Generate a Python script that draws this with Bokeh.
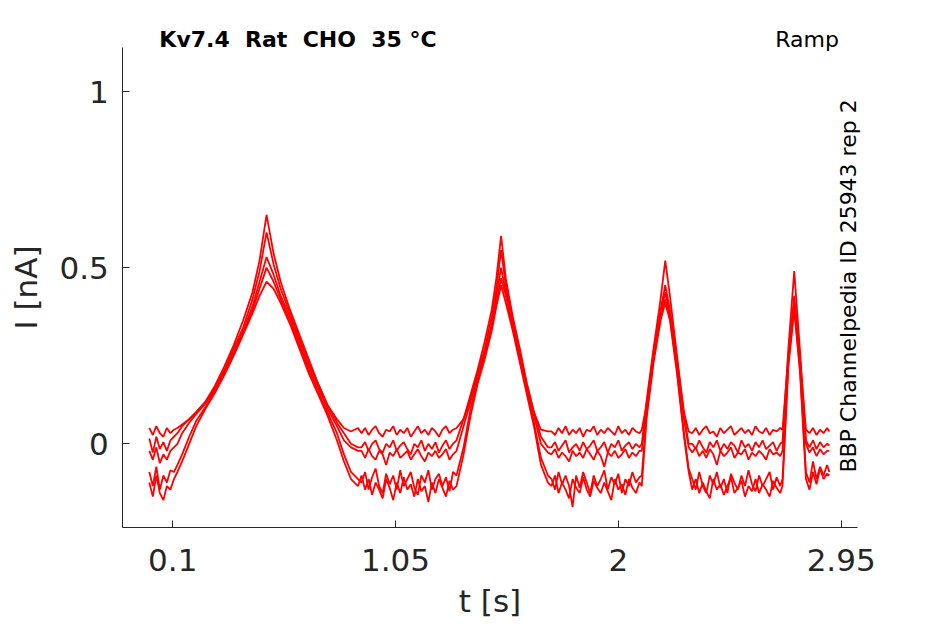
from bokeh.plotting import figure
from bokeh.models import Range1d, FixedTicker, Label
from bokeh.embed import file_html
from bokeh.resources import INLINE

# ---------------- data ----------------
# time [s]; one row per protocol segment
t = ([0.000, 0.015, 0.030, 0.045, 0.060, 0.075, 0.090, 0.105] +                       # hold
     [0.12, 0.14, 0.17, 0.20, 0.24, 0.28, 0.32, 0.36, 0.40, 0.44, 0.47, 0.50] +          # ramp 1 up
     [0.53, 0.56, 0.60, 0.64, 0.68, 0.72, 0.76, 0.80, 0.83, 0.86, 0.89] +                # ramp 1 down
     [0.905, 0.92, 0.935, 0.95, 0.965, 0.98, 0.995, 1.01, 1.025, 1.04, 1.055, 1.07, 1.085, 1.10,
      1.115, 1.13, 1.145, 1.16, 1.175, 1.19, 1.205, 1.22, 1.235, 1.25, 1.265, 1.28, 1.295, 1.31] +
     [1.34, 1.37, 1.40, 1.43, 1.46, 1.48, 1.50] +                                        # ramp 2 up
     [1.52, 1.55, 1.58, 1.61, 1.64, 1.67, 1.70] +                                        # ramp 2 down
     [1.715, 1.73, 1.745, 1.76, 1.775, 1.79, 1.805, 1.82, 1.835, 1.85, 1.865, 1.88, 1.895, 1.91,
      1.925, 1.94, 1.955, 1.97, 1.985, 2.00, 2.015, 2.03, 2.045, 2.06, 2.075, 2.09, 2.10] +
     [2.12, 2.15, 2.18, 2.20] +                                                          # ramp 3 up
     [2.22, 2.25, 2.28, 2.30] +                                                          # ramp 3 down
     [2.315, 2.33, 2.345, 2.36, 2.375, 2.39, 2.405, 2.42, 2.435, 2.45, 2.465, 2.48, 2.495, 2.51,
      2.525, 2.54, 2.555, 2.57, 2.585, 2.60, 2.615, 2.63, 2.645, 2.66, 2.675, 2.69, 2.70] +
     [2.725, 2.75, 2.775, 2.80] +                                                        # ramp 4
     [2.815, 2.83, 2.845, 2.86, 2.875, 2.89, 2.90])

# current [nA], five repetitions
trace_a = ([0.045, 0.025, 0.05, 0.03, 0.02, 0.045, 0.03, 0.04] +
           [0.045, 0.055, 0.07, 0.09, 0.12, 0.16, 0.21, 0.27, 0.33, 0.41, 0.49, 0.60] +
           [0.51, 0.44, 0.37, 0.30, 0.23, 0.17, 0.11, 0.07, 0.045, 0.035, 0.045] +
           [0.03, 0.045, 0.025, 0.04, 0.05, 0.03, 0.02, 0.04, 0.035, 0.05, 0.025, 0.04, 0.03, 0.045,
            0.02, 0.035, 0.05, 0.03, 0.04, 0.025, 0.045, 0.035, 0.02, 0.04, 0.05, 0.03, 0.04, 0.045] +
           [0.07, 0.13, 0.20, 0.27, 0.36, 0.44, 0.55] +
           [0.45, 0.35, 0.26, 0.17, 0.09, 0.04, 0.035] +
           [0.035, 0.025, 0.045, 0.03, 0.05, 0.025, 0.04, 0.03, 0.045, 0.02, 0.04, 0.035, 0.05, 0.025,
            0.04, 0.03, 0.045, 0.035, 0.025, 0.05, 0.03, 0.04, 0.025, 0.045, 0.035, 0.03, 0.04] +
           [0.11, 0.26, 0.38, 0.45] +
           [0.38, 0.24, 0.09, 0.035] +
           [0.03, 0.045, 0.025, 0.04, 0.05, 0.03, 0.035, 0.02, 0.045, 0.03, 0.04, 0.05, 0.025, 0.035,
            0.045, 0.03, 0.04, 0.025, 0.05, 0.035, 0.03, 0.045, 0.025, 0.04, 0.035, 0.045, 0.04] +
           [0.25, 0.42, 0.24, 0.04] +
           [0.03, 0.045, 0.025, 0.04, 0.03, 0.045, 0.035])

trace_b = ([0.015, -0.025, 0.02, -0.015, 0.005, -0.02, 0.01, 0.02] +
           [0.03, 0.05, 0.07, 0.09, 0.12, 0.165, 0.22, 0.28, 0.35, 0.43, 0.52, 0.65] +
           [0.54, 0.46, 0.38, 0.31, 0.24, 0.17, 0.11, 0.06, 0.03, 0.0, -0.01] +
           [-0.01, 0.005, -0.02, 0.0, 0.01, -0.015, -0.025, 0.0, -0.01, 0.01, -0.02, -0.005, 0.005, -0.015,
            -0.03, 0.0, -0.01, 0.01, -0.02, 0.0, -0.015, 0.005, -0.025, -0.005, 0.01, -0.015, 0.0, 0.01] +
           [0.07, 0.14, 0.21, 0.29, 0.38, 0.47, 0.59] +
           [0.47, 0.36, 0.27, 0.17, 0.09, 0.02, -0.01] +
           [-0.01, 0.005, -0.02, -0.005, 0.01, -0.025, -0.01, 0.0, -0.02, 0.005, -0.015, -0.005, 0.01, -0.02,
            -0.01, 0.005, -0.025, 0.0, -0.01, 0.01, -0.02, -0.005, 0.005, -0.015, 0.0, -0.01, 0.0] +
           [0.12, 0.27, 0.41, 0.52] +
           [0.42, 0.25, 0.08, 0.0] +
           [0.0, -0.015, 0.01, -0.01, -0.025, 0.005, -0.01, 0.01, -0.02, 0.0, -0.015, 0.005, -0.005, -0.025,
            0.01, -0.01, 0.0, -0.02, 0.005, -0.01, 0.01, -0.015, -0.005, 0.005, -0.02, 0.0, 0.005] +
           [0.27, 0.49, 0.26, 0.01] +
           [-0.01, 0.01, -0.015, 0.005, -0.01, 0.0, -0.005])

trace_c = ([-0.02, -0.045, -0.01, -0.055, -0.03, -0.045, -0.02, -0.01] +
           [0.0, 0.03, 0.06, 0.085, 0.115, 0.155, 0.205, 0.26, 0.32, 0.39, 0.46, 0.53] +
           [0.48, 0.42, 0.36, 0.29, 0.22, 0.16, 0.10, 0.05, 0.01, -0.01, -0.02] +
           [-0.02, -0.04, -0.015, -0.035, -0.045, -0.02, -0.03, -0.06, -0.025, -0.035, -0.015, -0.04, -0.03, -0.02,
            -0.045, -0.03, -0.015, -0.035, -0.05, -0.025, -0.035, -0.02, -0.04, -0.03, -0.015, -0.045, -0.03, -0.02] +
           [0.05, 0.12, 0.19, 0.26, 0.34, 0.42, 0.50] +
           [0.43, 0.34, 0.25, 0.16, 0.08, 0.0, -0.025] +
           [-0.03, -0.015, -0.04, -0.025, -0.035, -0.05, -0.02, -0.035, -0.025, -0.04, -0.015, -0.03, -0.045, -0.02,
            -0.035, -0.065, -0.025, -0.035, -0.02, -0.04, -0.03, -0.015, -0.04, -0.025, -0.035, -0.02, -0.02] +
           [0.10, 0.25, 0.37, 0.43] +
           [0.37, 0.23, 0.07, -0.01] +
           [-0.025, -0.01, -0.035, -0.02, -0.04, -0.015, -0.03, -0.06, -0.02, -0.035, -0.025, -0.01, -0.04, -0.025,
            -0.03, -0.015, -0.045, -0.025, -0.035, -0.02, -0.03, -0.045, -0.015, -0.03, -0.025, -0.035, -0.02] +
           [0.24, 0.40, 0.23, 0.0] +
           [-0.025, -0.01, -0.035, -0.015, -0.03, -0.02, -0.02])

trace_d = ([-0.08, -0.12, -0.065, -0.13, -0.09, -0.11, -0.075, -0.08] +
           [-0.06, -0.03, 0.02, 0.065, 0.105, 0.15, 0.20, 0.255, 0.315, 0.38, 0.44, 0.50] +
           [0.46, 0.41, 0.35, 0.28, 0.21, 0.15, 0.09, 0.03, -0.03, -0.08, -0.10] +
           [-0.11, -0.08, -0.13, -0.095, -0.07, -0.12, -0.14, -0.085, -0.115, -0.09, -0.13, -0.075, -0.12, -0.10,
            -0.08, -0.125, -0.145, -0.09, -0.11, -0.075, -0.13, -0.10, -0.085, -0.12, -0.095, -0.135, -0.08, -0.09] +
           [-0.01, 0.10, 0.18, 0.25, 0.33, 0.40, 0.47] +
           [0.42, 0.33, 0.24, 0.15, 0.06, -0.04, -0.09] +
           [-0.10, -0.13, -0.08, -0.115, -0.09, -0.12, -0.18, -0.09, -0.125, -0.08, -0.11, -0.14, -0.09, -0.12,
            -0.10, -0.075, -0.13, -0.095, -0.115, -0.085, -0.14, -0.10, -0.12, -0.08, -0.11, -0.095, -0.09] +
           [0.08, 0.24, 0.36, 0.41] +
           [0.36, 0.21, 0.03, -0.07] +
           [-0.10, -0.13, -0.08, -0.12, -0.14, -0.09, -0.115, -0.08, -0.125, -0.10, -0.14, -0.085, -0.11, -0.13,
            -0.09, -0.12, -0.075, -0.115, -0.135, -0.09, -0.12, -0.10, -0.08, -0.13, -0.095, -0.12, -0.10] +
           [0.23, 0.39, 0.21, -0.08] +
           [-0.11, -0.05, -0.10, -0.065, -0.09, -0.06, -0.08])

trace_e = ([-0.11, -0.15, -0.09, -0.14, -0.16, -0.12, -0.13, -0.10] +
           [-0.08, -0.05, 0.0, 0.05, 0.10, 0.145, 0.195, 0.25, 0.31, 0.37, 0.42, 0.46] +
           [0.44, 0.40, 0.34, 0.27, 0.20, 0.14, 0.08, 0.01, -0.05, -0.10, -0.12] +
           [-0.09, -0.13, -0.10, -0.145, -0.11, -0.13, -0.155, -0.10, -0.125, -0.16, -0.11, -0.14, -0.095, -0.13,
            -0.115, -0.15, -0.10, -0.135, -0.12, -0.165, -0.11, -0.14, -0.10, -0.125, -0.15, -0.105, -0.13, -0.12] +
           [-0.03, 0.08, 0.17, 0.24, 0.32, 0.39, 0.45] +
           [0.40, 0.32, 0.23, 0.14, 0.05, -0.06, -0.11] +
           [-0.12, -0.09, -0.14, -0.11, -0.13, -0.155, -0.10, -0.125, -0.14, -0.095, -0.13, -0.15, -0.105, -0.125,
            -0.14, -0.11, -0.135, -0.16, -0.10, -0.13, -0.115, -0.145, -0.10, -0.125, -0.14, -0.11, -0.12] +
           [0.07, 0.23, 0.35, 0.40] +
           [0.35, 0.20, 0.02, -0.08] +
           [-0.13, -0.10, -0.14, -0.11, -0.135, -0.155, -0.10, -0.13, -0.115, -0.145, -0.12, -0.095, -0.14, -0.125,
            -0.105, -0.15, -0.12, -0.135, -0.10, -0.14, -0.115, -0.13, -0.15, -0.105, -0.125, -0.14, -0.12] +
           [0.22, 0.38, 0.20, -0.10] +
           [-0.13, -0.08, -0.115, -0.07, -0.10, -0.085, -0.09])

traces = [trace_a, trace_b, trace_c, trace_d, trace_e]
for i, tr in enumerate(traces):
    if len(tr) != len(t):
        raise ValueError("trace %d has %d points, t has %d" % (i, len(tr), len(t)))

x_ticks = [0.1, 1.05, 2, 2.95]
x_tick_labels = ["0.1", "1.05", "2", "2.95"]
y_ticks = [0, 0.5, 1]
y_tick_labels = ["0", "0.5", "1"]

title_text = "Kv7.4 \u00a0Rat \u00a0CHO \u00a035 \u00b0C"
protocol_text = "Ramp"
side_text = "BBP Channelpedia ID 25943 rep 2"
x_label = "t [s]"
y_label = "I [nA]"

# ---------------- figure ----------------
FONT = "DejaVu Sans"
DARK = "#262626"
# axes box (data limits)
X0, X1 = -0.113, 3.018
Y0, Y1 = -0.237, 1.126
# whole canvas expressed in data units (frame covers the whole canvas,
# axes are drawn at fixed locations so that outside texts are not clipped)
CX0, CX1 = -0.6345, 3.395
CY0, CY1 = -0.5129, 1.2583

p = figure(width=945, height=624, output_backend="svg", toolbar_location=None,
           x_range=Range1d(CX0, CX1), y_range=Range1d(CY0, CY1),
           min_border=0)
p.outline_line_color = None
p.xgrid.visible = False
p.ygrid.visible = False
p.background_fill_color = "white"
p.border_fill_color = "white"

for tr in traces:
    p.line(t, tr, line_color="#ff0000", line_width=1.8)

p.xaxis.ticker = FixedTicker(ticks=x_ticks)
p.yaxis.ticker = FixedTicker(ticks=y_ticks)
p.xaxis.major_label_overrides = dict(zip(x_ticks, x_tick_labels))
p.yaxis.major_label_overrides = dict(zip(y_ticks, y_tick_labels))
p.xaxis.axis_label = x_label
p.yaxis.axis_label = y_label
p.xaxis.fixed_location = Y0
p.yaxis.fixed_location = X0
p.xaxis.bounds = (X0, X1)
p.yaxis.bounds = (Y0, Y1)

for ax in (p.xaxis[0], p.yaxis[0]):
    ax.axis_line_color = DARK
    ax.axis_line_width = 1
    ax.major_tick_line_color = DARK
    ax.major_tick_in = 7
    ax.major_tick_out = 0
    ax.minor_tick_line_color = None
    ax.major_label_text_font = FONT
    ax.major_label_text_font_size = "31px"
    ax.major_label_text_color = DARK
    ax.axis_label_text_font = FONT
    ax.axis_label_text_font_size = "31px"
    ax.axis_label_text_font_style = "normal"
    ax.axis_label_text_color = DARK

p.xaxis.major_label_standoff = 22
p.xaxis.axis_label_standoff = 8
p.yaxis.major_label_standoff = 14
p.yaxis.axis_label_standoff = 12

TITLE_Y = 1.149
p.add_layout(Label(x=0.634, y=TITLE_Y, text=title_text, text_align="center",
                   text_baseline="alphabetic", text_font=FONT, text_font_style="bold",
                   text_font_size="22px", text_color="black"))
p.add_layout(Label(x=2.805, y=TITLE_Y, text=protocol_text, text_align="center",
                   text_baseline="alphabetic", text_font=FONT,
                   text_font_size="22px", text_color="black"))
p.add_layout(Label(x=2.980, y=0.448, text=side_text, text_align="center",
                   text_baseline="alphabetic", angle=1.5708, text_font=FONT,
                   text_font_size="22px", text_color="black"))

open("out.html", "w").write(file_html(p, INLINE))
